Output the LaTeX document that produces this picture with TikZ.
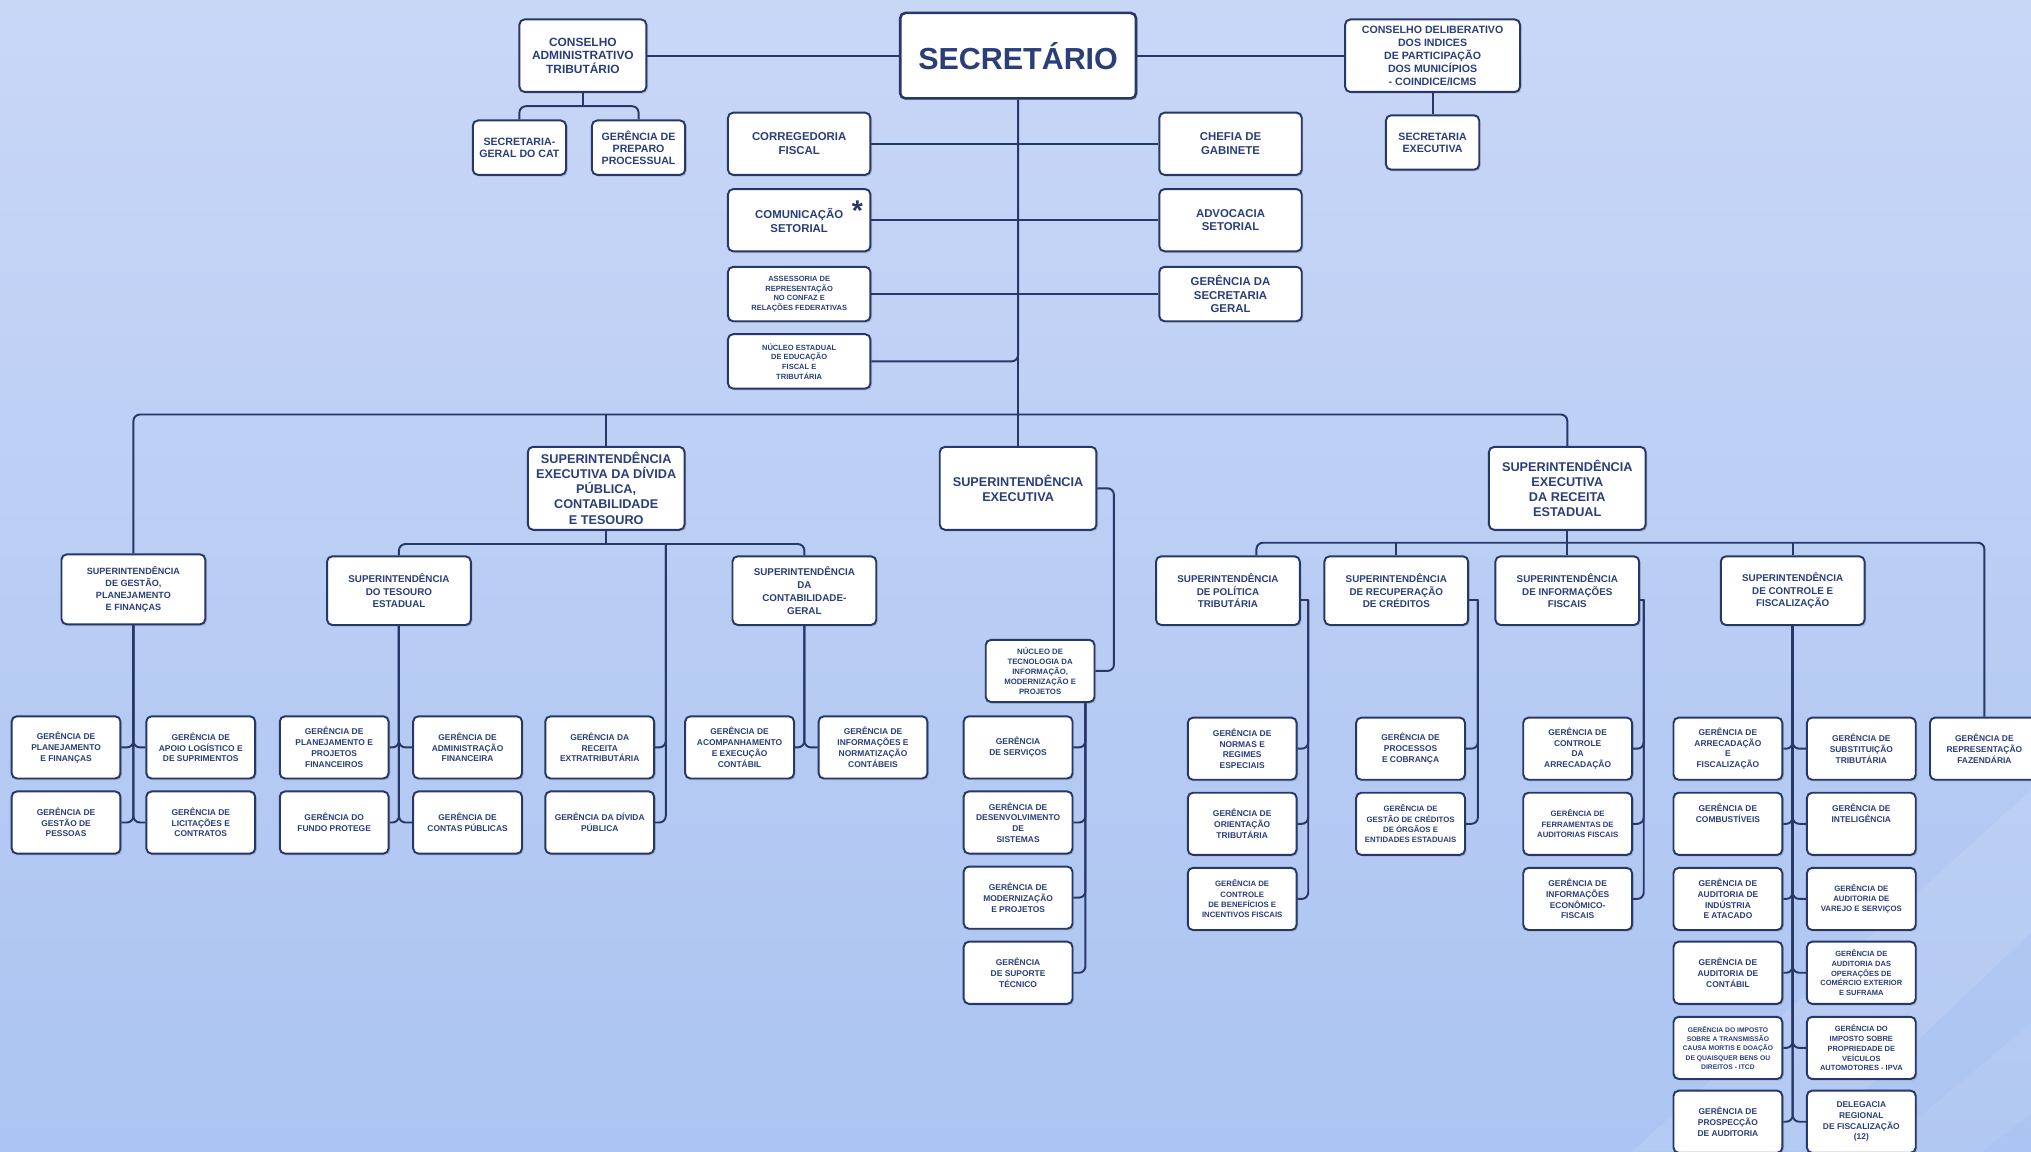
\documentclass[tikz,border=0pt]{standalone}
\usepackage{fontspec}
\setsansfont{Liberation Sans}
\usepackage{tikz}
\usetikzlibrary{shadows}
\definecolor{azul}{RGB}{38,55,104}
\definecolor{letra}{RGB}{42,62,122}
\definecolor{fundoA}{RGB}{201,215,247}
\definecolor{fundoB}{RGB}{171,196,241}
\newcommand{\fsz}[2]{\sffamily\bfseries\fontsize{#1}{#2}\selectfont}

\begin{document}
\begin{tikzpicture}[x=1pt,y=-1pt,
  caixa/.style={draw=azul,line width=1.5pt,fill=white,rounded corners=4pt,align=center,text=letra,inner sep=1pt,
    drop shadow={shadow xshift=1.3pt,shadow yshift=-1.3pt,opacity=0.3}},
  secbox/.style={caixa,line width=2pt,minimum width=182,minimum height=66,font=\fsz{23.5}{25}},
  topbox/.style={caixa,minimum width=98,minimum height=56,font=\fsz{9.2}{10.6}},
  pequeno/.style={caixa,minimum width=72,minimum height=42,font=\fsz{8.2}{9.4}},
  staff/.style={caixa,minimum width=110,minimum height=48,font=\fsz{8.8}{10.6}},
  staffmini/.style={caixa,minimum width=110,minimum height=42,font=\fsz{5.8}{7.4}},
  supgrande/.style={caixa,minimum width=121,minimum height=64,font=\fsz{9.8}{11.6}},
  supbox/.style={caixa,minimum width=111,minimum height=53,font=\fsz{7.6}{9.8}},
  gerbox/.style={caixa,minimum width=84,minimum height=48,font=\fsz{6.5}{8.3}},
  linha/.style={draw=azul,line width=1.5pt,rounded corners=5pt}]
  \useasboundingbox (0,0) rectangle (1568,889);%
  \clip (0,0) rectangle (1568,889);%
  \shade [top color=fundoA,bottom color=fundoB] (0,0) rectangle (1568,889);%
  \fill [white,opacity=0.10] (1260,889) -- (1568,610) -- (1568,720) -- (1390,889) -- cycle;%
  \fill [white,opacity=0.08] (1450,889) -- (1568,790) -- (1568,860) -- (1530,889) -- cycle;%
  % topo
  \node [secbox] (sec) at (786,43) {SECRETÁRIO};%
  \node [topbox] (cat) at (450,43) {CONSELHO\\ADMINISTRATIVO\\TRIBUTÁRIO};%
  \node [topbox,minimum width=135,font=\fsz{8.2}{10}] (coi) at (1106,43) {CONSELHO DELIBERATIVO\\DOS INDICES\\DE PARTICIPAÇÃO\\DOS MUNICÍPIOS\\- COINDICE/ICMS};%
  \node [pequeno] (sgc) at (401,114) {SECRETARIA-\\GERAL DO CAT};%
  \node [pequeno] (gpp) at (493,114) {GERÊNCIA DE\\PREPARO\\PROCESSUAL};%
  \node [pequeno] (sexe) at (1106,110) {SECRETARIA\\EXECUTIVA};%
  \coordinate (bcat) at (450,82);%
  % assessoramento
  \node [staff] (cor) at (617,111) {CORREGEDORIA\\FISCAL};%
  \node [staff] (com) at (617,170) {COMUNICAÇÃO\\SETORIAL};%
  \node [text=azul,font=\fsz{22}{22}] (ast) at (662,163) {*};%
  \node [staffmini] (ass) at (617,227) {ASSESSORIA DE\\REPRESENTAÇÃO\\NO CONFAZ E\\RELAÇÕES FEDERATIVAS};%
  \node [staffmini] (nuc) at (617,279) {NÚCLEO ESTADUAL\\DE EDUCAÇÃO\\FISCAL E\\TRIBUTÁRIA};%
  \node [staff] (che) at (950,111) {CHEFIA DE\\GABINETE};%
  \node [staff] (adv) at (950,170) {ADVOCACIA\\SETORIAL};%
  \node [staff,minimum height=42] (gsg) at (950,227) {GERÊNCIA DA\\SECRETARIA\\GERAL};%
  \coordinate (bus) at (786,320);%
  % superintendencias
  \node [supgrande] (sedp) at (468,377) {SUPERINTENDÊNCIA\\EXECUTIVA DA DÍVIDA\\PÚBLICA,\\CONTABILIDADE\\E TESOURO};%
  \node [supgrande] (se) at (786,377) {SUPERINTENDÊNCIA\\EXECUTIVA};%
  \node [supgrande] (sere) at (1210,377) {SUPERINTENDÊNCIA\\EXECUTIVA\\DA RECEITA\\ESTADUAL};%
  \node [supbox,minimum height=54,font=\fsz{7}{9.2}] (sgpf) at (103,455) {SUPERINTENDÊNCIA\\DE GESTÃO,\\PLANEJAMENTO\\E FINANÇAS};%
  \node [supbox] (ste) at (308,456) {SUPERINTENDÊNCIA\\DO TESOURO\\ESTADUAL};%
  \node [supbox] (scg) at (621,456) {SUPERINTENDÊNCIA\\DA\\CONTABILIDADE-\\GERAL};%
  \node [supbox] (spt) at (948,456) {SUPERINTENDÊNCIA\\DE POLÍTICA\\TRIBUTÁRIA};%
  \node [supbox] (src) at (1078,456) {SUPERINTENDÊNCIA\\DE RECUPERAÇÃO\\DE CRÉDITOS};%
  \node [supbox] (sif) at (1210,456) {SUPERINTENDÊNCIA\\DE INFORMAÇÕES\\FISCAIS};%
  \node [supbox] (scf) at (1384,456) {SUPERINTENDÊNCIA\\DE CONTROLE E\\FISCALIZAÇÃO};%
  \coordinate (bsd) at (468,420);%
  \coordinate (vsd) at (514,420);%
  \coordinate (bre) at (1210,419);%
  \coordinate (dse) at (860,377);%
  \coordinate (vnt) at (838,542);%
  \coordinate (vspt) at (1010,463);%
  \coordinate (vsrc) at (1141,463);%
  \coordinate (vsif) at (1269,463);%
  % gerencias
  \node [gerbox] (gpf) at (51,577) {GERÊNCIA DE\\PLANEJAMENTO\\E FINANÇAS};%
  \node [gerbox] (gal) at (155,577) {GERÊNCIA DE\\APOIO LOGÍSTICO E\\DE SUPRIMENTOS};%
  \node [gerbox] (ggp) at (51,635) {GERÊNCIA DE\\GESTÃO DE\\PESSOAS};%
  \node [gerbox] (glc) at (155,635) {GERÊNCIA DE\\LICITAÇÕES E\\CONTRATOS};%
  \node [gerbox] (gppf) at (258,577) {GERÊNCIA DE\\PLANEJAMENTO E\\PROJETOS\\FINANCEIROS};%
  \node [gerbox] (gaf) at (361,577) {GERÊNCIA DE\\ADMINISTRAÇÃO\\FINANCEIRA};%
  \node [gerbox] (gfp) at (258,635) {GERÊNCIA DO\\FUNDO PROTEGE};%
  \node [gerbox] (gcp) at (361,635) {GERÊNCIA DE\\CONTAS PÚBLICAS};%
  \node [gerbox] (grx) at (463,577) {GERÊNCIA DA\\RECEITA\\EXTRATRIBUTÁRIA};%
  \node [gerbox] (gdp) at (463,635) {GERÊNCIA DA DÍVIDA\\PÚBLICA};%
  \node [gerbox] (gaec) at (571,577) {GERÊNCIA DE\\ACOMPANHAMENTO\\E EXECUÇÃO\\CONTÁBIL};%
  \node [gerbox] (ginc) at (674,577) {GERÊNCIA DE\\INFORMAÇÕES E\\NORMATIZAÇÃO\\CONTÁBEIS};%
  \node [gerbox,font=\fsz{6}{7.7}] (ntimp) at (803,518) {NÚCLEO DE\\TECNOLOGIA DA\\INFORMAÇÃO,\\MODERNIZAÇÃO E\\PROJETOS};%
  \node [gerbox] (gsv) at (786,577) {GERÊNCIA\\DE SERVIÇOS};%
  \node [gerbox] (gds) at (786,635) {GERÊNCIA DE\\DESENVOLVIMENTO\\DE\\SISTEMAS};%
  \node [gerbox] (gmp) at (786,693) {GERÊNCIA DE\\MODERNIZAÇÃO\\E PROJETOS};%
  \node [gerbox] (gst) at (786,751) {GERÊNCIA\\DE SUPORTE\\TÉCNICO};%
  \node [gerbox] (gnre) at (959,578) {GERÊNCIA DE\\NORMAS E\\REGIMES\\ESPECIAIS};%
  \node [gerbox] (got) at (959,636) {GERÊNCIA DE\\ORIENTAÇÃO\\TRIBUTÁRIA};%
  \node [gerbox,font=\fsz{6}{8}] (gcbi) at (959,694) {GERÊNCIA DE\\CONTROLE\\DE BENEFÍCIOS E\\INCENTIVOS FISCAIS};%
  \node [gerbox] (gpc) at (1089,578) {GERÊNCIA DE\\PROCESSOS\\E COBRANÇA};%
  \node [gerbox,font=\fsz{6}{8}] (ggc) at (1089,636) {GERÊNCIA DE\\GESTÃO DE CRÉDITOS\\DE ÓRGÃOS E\\ENTIDADES ESTADUAIS};%
  \node [gerbox] (gca) at (1218,578) {GERÊNCIA DE\\CONTROLE\\DA\\ARRECADAÇÃO};%
  \node [gerbox,font=\fsz{6}{8}] (gfa) at (1218,636) {GERÊNCIA DE\\FERRAMENTAS DE\\AUDITORIAS FISCAIS};%
  \node [gerbox] (gie) at (1218,694) {GERÊNCIA DE\\INFORMAÇÕES\\ECONÔMICO-\\FISCAIS};%
  \node [gerbox] (garf) at (1334,578) {GERÊNCIA DE\\ARRECADAÇÃO\\E\\FISCALIZAÇÃO};%
  \node [gerbox] (gcb) at (1334,636) {GERÊNCIA DE\\COMBUSTÍVEIS\\[8pt]};%
  \node [gerbox] (gaia) at (1334,694) {GERÊNCIA DE\\AUDITORIA DE\\INDÚSTRIA\\E ATACADO};%
  \node [gerbox] (gact) at (1334,751) {GERÊNCIA DE\\AUDITORIA DE\\CONTÁBIL};%
  \node [gerbox,font=\fsz{5.2}{7.2}] (gitcd) at (1334,809) {GERÊNCIA DO IMPOSTO\\SOBRE A TRANSMISSÃO\\CAUSA MORTIS E DOAÇÃO\\DE QUAISQUER BENS OU\\DIREITOS - ITCD};%
  \node [gerbox] (gpa) at (1334,866) {GERÊNCIA DE\\PROSPECÇÃO\\DE AUDITORIA};%
  \node [gerbox] (gsut) at (1437,578) {GERÊNCIA DE\\SUBSTITUIÇÃO\\TRIBUTÁRIA};%
  \node [gerbox] (gint) at (1437,636) {GERÊNCIA DE\\INTELIGÊNCIA\\[8pt]};%
  \node [gerbox,font=\fsz{6}{8}] (gavs) at (1437,694) {GERÊNCIA DE\\AUDITORIA DE\\VAREJO E SERVIÇOS};%
  \node [gerbox,font=\fsz{5.8}{7.6}] (gace) at (1437,751) {GERÊNCIA DE\\AUDITORIA DAS\\OPERAÇÕES DE\\COMÉRCIO EXTERIOR\\E SUFRAMA};%
  \node [gerbox,font=\fsz{5.8}{7.6}] (gipva) at (1437,809) {GERÊNCIA DO\\IMPOSTO SOBRE\\PROPRIEDADE DE\\VEÍCULOS\\AUTOMOTORES - IPVA};%
  \node [gerbox] (drf) at (1437,866) {DELEGACIA\\REGIONAL\\DE FISCALIZAÇÃO\\(12)};%
  \node [gerbox] (grf) at (1532,578) {GERÊNCIA DE\\REPRESENTAÇÃO\\FAZENDÁRIA};%
  % ligacoes do topo
  \draw [linha] (cat.east) to (sec.west);%
  \draw [linha] (sec.east) to (coi.west);%
  \draw [linha] (cat.south) to (bcat);%
  \draw [linha] (sgc.north) |- (bcat) -| (gpp.north);%
  \draw [linha] (coi.south) to (sexe.north);%
  \draw [linha] (sec.south) to (bus);%
  \draw [linha] (cor.east) to (che.west);%
  \draw [linha] (com.east) to (adv.west);%
  \draw [linha] (ass.east) to (gsg.west);%
  \draw [linha] (nuc.east) -| (sec.south);%
  % barramento principal
  \draw [linha] (sgpf.north) |- (bus) -| (sere.north);%
  \draw [linha] (sedp.north) to (sedp.north |- bus);%
  \draw [linha] (bus) to (se.north);%
  \draw [linha] (sedp.south) to (bsd);%
  \draw [linha] (ste.north) |- (bsd) -| (scg.north);%
  \draw [linha] (grx.east) -| (vsd);%
  \draw [linha] (gdp.east) -| (vsd);%
  \draw [linha] (se.east) -| (dse |- ntimp.east) -- (ntimp.east);%
  \draw [linha] (sere.south) to (sif.north);%
  \draw [linha] ([xshift=22pt]spt.north) |- (bre) -| (grf.north);%
  \draw [linha] (src.north) to (src.north |- bre);%
  \draw [linha] (scf.north) to (scf.north |- bre);%
  % ramos das gerencias
  \foreach \g in {gpf,ggp} {\draw [linha] (\g.east) -| (sgpf.south);}%
  \foreach \g in {gal,glc} {\draw [linha] (\g.west) -| (sgpf.south);}%
  \foreach \g in {gppf,gfp} {\draw [linha] (\g.east) -| (ste.south);}%
  \foreach \g in {gaf,gcp} {\draw [linha] (\g.west) -| (ste.south);}%
  \draw [linha] (gaec.east) -| (scg.south);%
  \draw [linha] (ginc.west) -| (scg.south);%
  \foreach \g in {gsv,gds,gmp,gst} {\draw [linha] (\g.east) -| (vnt);}%
  \draw [linha] (spt.east |- vspt) to (vspt);%
  \foreach \g in {gnre,got,gcbi} {\draw [linha] (\g.east) -| (vspt);}%
  \draw [linha] (src.east |- vsrc) to (vsrc);%
  \foreach \g in {gpc,ggc} {\draw [linha] (\g.east) -| (vsrc);}%
  \draw [linha] (sif.east |- vsif) to (vsif);%
  \foreach \g in {gca,gfa,gie} {\draw [linha] (\g.east) -| (vsif);}%
  \foreach \g in {garf,gcb,gaia,gact,gitcd,gpa} {\draw [linha] (\g.east) -| (scf.south);}%
  \foreach \g in {gsut,gint,gavs,gace,gipva,drf} {\draw [linha] (\g.west) -| (scf.south);}%
\end{tikzpicture}
\end{document}
